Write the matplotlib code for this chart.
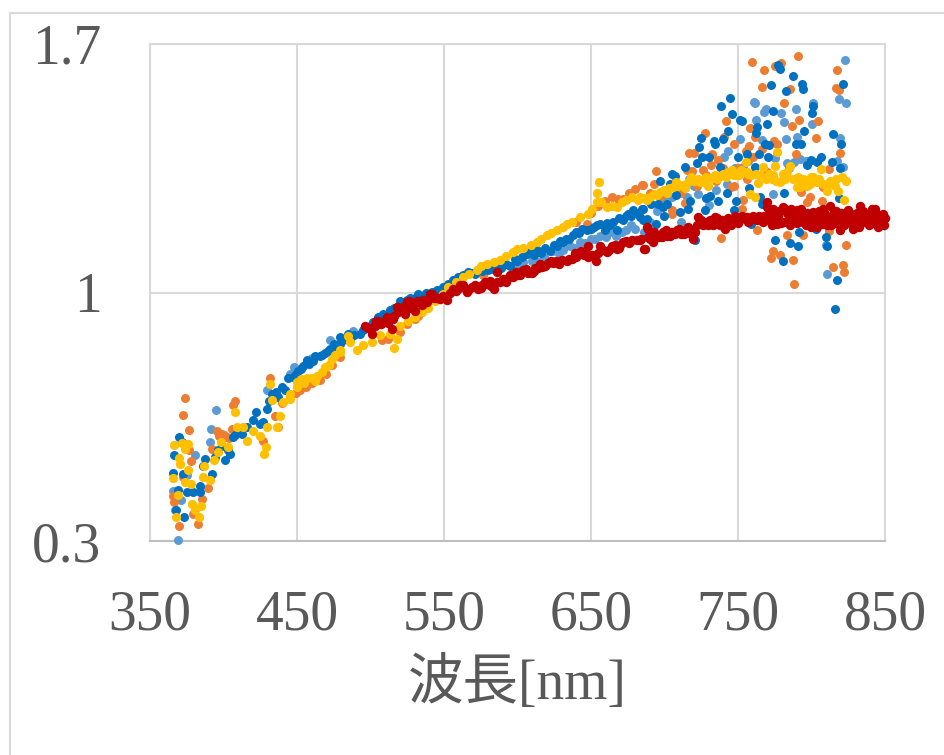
import numpy as np
import matplotlib
matplotlib.use('Agg')
import matplotlib.pyplot as plt
from matplotlib.patches import Rectangle

# values as (wavelength nm, ratio)
series_lightblue = [
    (368.8, .303), (365.4, .442), (370.9, .416), (367, .388), (380.6, .543), (394.7, .67), (391.5, .616), (390.8, .578),
    (375.4, .487), (429.4, .724), (448, .79), (445, .771), (456.6, .808), (472.4, .865), (488.3, .892), (452, .785),
    (460, .815), (597, 1.076), (610, 1.09), (624.4, 1.118), (631.2, 1.12), (636, 1.13), (642.5, 1.142), (650, 1.15), (656, 1.16),
    (663, 1.17), (671, 1.17), (677, 1.19), (686, 1.17), (702.6, 1.292), (710.5, 1.283), (711.4, 1.198), (716.6, 1.32),
    (722.9, 1.278), (730.2, 1.247), (742.7, 1.306), (740.5, 1.381), (743.4, 1.4), (751.3, 1.433), (753.6, 1.353),
    (760.9, 1.538), (761.5, 1.533), (762, 1.485), (766.5, 1.43), (767.7, 1.508), (769, 1.517), (773.6, 1.278),
    (779, 1.506), (781.5, 1.48), (782.4, 1.431), (783.1, 1.364), (788.3, 1.367), (789.4, 1.516), (790.3, 1.438),
    (792.2, 1.376), (800.1, 1.475), (801.2, 1.533), (809.6, 1.135), (810.5, 1.052), (817.6, 1.37), (818.5, 1.545),
    (819.4, 1.436), (821.6, 1.353), (822.5, 1.656), (823.2, 1.534),
    (600, 1.07), (604, 1.085), (614, 1.085), (618, 1.1), (628, 1.11), (639, 1.125), (646, 1.14), (653, 1.15), (660, 1.155),
    (667, 1.16), (674, 1.175), (680, 1.18), (690, 1.2), (695, 1.23), (700, 1.26), (705, 1.27), (715, 1.27), (720, 1.3),
    (727, 1.31), (735, 1.29), (748, 1.35), (757, 1.37), (775, 1.38), (785, 1.35), (796, 1.37),
]
series_orange = [
    (373.6, .703), (372.7, .656), (376.8, .614), (377.7, .525), (407.6, .694), (406.7, .682), (431.6, .76), (369.7, .341),
    (382.9, .348), (366.6, .409), (365.4, .428), (389.7, .449), (385.1, .419), (379.5, .377), (395.4, .611), (398.8, .602),
    (402.2, .593), (392, .56), (405.6, .616), (427, .583), (435, .653), (437.3, .621), (452, .724), (465.6, .754), (479, .818),
    (372.2, .48), (376.5, .557), (397, .595), (400.5, .6), (404, .59), (507.6, .865), (532.5, .935), (576.8, 1.048), (647, 1.193),
    (659.5, 1.259), (664, 1.269), (668.6, 1.264), (680, 1.292), (685, 1.303), (685.1, 1.302), (693, 1.306), (694.4, 1.342),
    (704.8, 1.231), (704.8, 1.222), (713.9, 1.253), (715, 1.345), (716.9, 1.394), (718.5, 1.342), (720.3, 1.392), (726.4, 1.344),
    (727.3, 1.45), (731.4, 1.36), (732.5, 1.39), (736.6, 1.372), (738.2, 1.153), (740.5, 1.438), (741.6, 1.484), (745, 1.298),
    (747.5, 1.3), (747.5, 1.417), (752.5, 1.236), (753.6, 1.261), (755.2, 1.4), (757.5, 1.413), (758.4, 1.463), (759.3, 1.65),
    (760.4, 1.381), (761.5, 1.437), (763.1, 1.176), (766.1, 1.403), (766.5, 1.579), (767.4, 1.626), (772.4, 1.096), (773.6, 1.116),
    (774.7, 1.426), (775.1, 1.637), (776.7, 1.419), (778.5, 1.107), (779.2, 1.647), (781.3, 1.535), (783.3, 1.163), (785.4, 1.572),
    (786.5, 1.469), (787.4, 1.092), (788.3, 1.024), (789.4, 1.39), (790.6, 1.666), (791.2, 1.487), (792.6, 1.283), (794.4, 1.163),
    (796.7, 1.256), (798.9, 1.269), (803.3, 1.436), (804.2, 1.484), (806.9, 1.257), (808, 1.297), (812.1, 1.348), (812.1, 1.173),
    (814.4, 1.073), (816.4, 1.576), (817.3, 1.627), (818.7, 1.57), (819.1, 1.393), (821.4, 1.078), (822.3, 1.057), (823.2, 1.135),
    (440, .69), (445, .705), (449, .718), (456, .735), (460, .745), (470, .77), (474, .795), (512, .87), (520, .89), (525, .91),
    (530, .925), (640, 1.2), (650, 1.225), (655, 1.245), (672, 1.262), (676, 1.28), (690, 1.28), (697, 1.27), (702, 1.285),
    (708, 1.3), (711, 1.28), (722, 1.3), (728, 1.33), (735, 1.315), (740, 1.35), (750, 1.35), (756, 1.32), (770, 1.34),
]
series_blue = [
    (369.7, .594), (372, .578), (366.6, .543), (365.4, .492), (368.8, .445), (367.7, .386), (373.4, .369), (372.7, .489),
    (375, .438), (379.5, .438), (384, .456), (384, .438), (385.8, .51), (392, .489), (387.4, .532), (394.2, .536), (401, .527),
    (404.4, .546), (398.8, .569), (406.7, .593), (412.4, .602), (420.3, .64), (422, .663), (427, .635), (429.4, .672), (432.8, .715),
    (437.3, .705), (441.8, .724), (447.5, .761), (451, .778), (454.3, .794), (458, .8), (461, .808), (465.6, .822), (469, .83), (472.4, .841), (476, .848),
    (479.3, .855), (479.3, .874), (485, .884), (489, .88), (492.9, .884), (497, .9), (502, .917), (505, .93), (508.7, .94), (513, .95), (518, .96),
    (522.3, .973), (527, .985), (532.5, .996), (538, 1.0), (545, 1.006), (549, 1.015), (553, 1.025), (556, 1.035), (559.8, 1.043), (563, 1.05), (566.6, 1.057),
    (571, 1.052), (576, 1.06), (583.6, 1.067), (589, 1.07), (595, 1.076), (600, 1.09), (606.2, 1.109), (611, 1.105), (616, 1.11), (622.1, 1.118), (627, 1.13),
    (631.2, 1.142), (635, 1.152), (638, 1.161), (642, 1.168), (647, 1.175), (652, 1.185), (656.1, 1.194), (659.6, 1.175), (663, 1.19), (667.5, 1.175),
    (672, 1.203), (675, 1.22), (678.8, 1.231), (681, 1.225), (684.5, 1.236), (685.6, 1.203), (683.3, 1.212), (685.6, 1.236), (687.8, 1.207), (690.6, 1.25), (694.2, 1.194),
    (695.8, 1.25), (696.9, 1.315), (699.2, 1.24), (699.6, 1.215), (701.4, 1.25), (703.7, 1.306), (704.8, 1.334), (707.1, 1.328), (707.8, 1.276),
    (710.5, 1.226), (713.7, 1.353), (716.2, 1.236), (717.3, 1.259), (720.7, 1.148), (722.3, 1.366), (723.4, 1.411), (724.6, 1.436), (725.7, 1.383),
    (727.5, 1.231), (728, 1.267), (730.2, 1.381), (730.9, 1.273), (733.6, 1.428), (734.3, 1.417), (736.6, 1.259), (737.7, 1.353), (738.2, 1.524),
    (739.5, 1.432), (742.3, 1.28), (743.4, 1.454), (744.5, 1.548), (745.7, 1.503), (747.5, 1.231), (748.6, 1.258), (750.2, 1.383), (751.3, 1.485),
    (752.5, 1.482), (755.9, 1.391), (757.7, 1.295), (758.8, 1.193), (761.5, 1.353), (762.2, 1.45), (762.7, 1.466), (764.5, 1.389), (764.9, 1.269),
    (766.1, 1.25), (768.3, 1.419), (769.5, 1.475), (770.6, 1.381), (771.3, 1.416), (772.4, 1.585), (773.6, 1.511), (775.1, 1.149), (777.4, 1.642),
    (778.5, 1.63), (780.4, 1.088), (781.5, 1.281), (782.4, 1.567), (785.4, 1.14), (787.4, 1.609), (789.4, 1.417), (790.6, 1.132), (791.3, 1.171),
    (792.6, 1.419), (793.3, 1.588), (794.4, 1.572), (795.1, 1.454), (796.7, 1.358), (799.4, 1.372), (800.1, 1.506), (801.2, 1.524), (803.3, 1.179),
    (803.5, 1.367), (806.4, 1.381), (809.6, 1.156), (810.3, 1.132), (813.7, 1.367), (814.4, 1.447), (816.2, .953), (817.3, 1.036), (818.9, 1.266),
    (819.4, 1.351), (820, 1.417), (821.4, 1.587),
    # second layer of the thick part of the band
    (396, .555), (403, .555), (408, .6), (416, .62), (425, .63), (431, .695), (436, .72), (440, .735), (444, .76), (449, .77), (453, .785), (457, .81), (462, .82),
    (467, .825), (471, .835), (475, .855), (481, .865), (487, .875), (495, .895), (500, .905), (510, .935), (516, .955), (520, .975), (525, .98), (530, .985),
    (542, 1.002), (558, 1.035), (569, 1.055), (580, 1.063), (586, 1.075), (592, 1.08), (598, 1.095), (603, 1.1), (608, 1.115), (613, 1.12), (619, 1.125), (625, 1.135),
    (629, 1.145), (633, 1.15), (640, 1.17), (644, 1.18), (650, 1.18), (654, 1.19), (661, 1.195), (665, 1.2), (669, 1.21), (674, 1.215), (677, 1.215),
]
series_yellow = [
    (366.6, .571), (372, .576), (375.6, .574), (373.8, .56), (369.5, .533), (370.6, .516), (365.4, .477), (376, .501), (373.8, .466),
    (377.7, .461), (368.8, .43), (378.8, .405), (384.7, .398), (380.6, .386), (383.6, .367), (367.7, .367), (386.7, .51), (386.3, .48),
    (390.8, .472), (393.8, .527), (396.5, .55), (398, .578), (403.3, .566), (407.8, .663), (409, .621), (413.5, .621), (416.2, .583),
    (420.3, .611), (424.8, .597), (428.7, .564), (427.8, .546), (429.8, .622), (431.6, .742), (432.8, .696), (436.2, .621), (438.4, .651),
    (440.7, .691), (445.2, .715), (449.8, .747), (453, .755), (456.6, .76), (460, .76), (463.4, .766), (469, .79), (473.6, .813), (476, .825), (479.3, .832),
    (484.5, .877), (479.3, .837), (486, .86), (490.6, .837), (495, .851), (500.8, .86), (506.5, .879), (513.3, .884), (517.8, .87), (516, .844),
    (520, .907), (525.7, .919), (530, .93), (535, .945), (539.3, .957), (544, .975), (549, .995), (553, 1.015), (558, 1.03), (563, 1.043), (567, 1.053), (572.2, 1.062), (575, 1.075),
    (579, 1.081), (584, 1.087), (588, 1.092), (592, 1.102), (597, 1.114), (600, 1.122), (604, 1.126), (609, 1.135), (613, 1.142), (616, 1.152), (620, 1.161), (623, 1.168), (626.6, 1.177),
    (631, 1.185), (634, 1.192), (637, 1.198), (642.5, 1.212), (648, 1.222), (651, 1.235), (653.9, 1.254), (655.5, 1.311), (654, 1.28), (657, 1.255), (660.7, 1.24), (664, 1.245), (667.5, 1.24),
    (671, 1.255), (674, 1.26), (677.7, 1.269), (683.3, 1.269), (686, 1.265), (690, 1.269), (693, 1.278), (696.9, 1.283), (700, 1.288), (703, 1.293), (706, 1.297), (709, 1.3), (712.8, 1.304),
    (716, 1.31), (720, 1.315), (723, 1.32), (726, 1.31), (729.8, 1.3), (732, 1.322), (734.3, 1.33), (738, 1.328), (740, 1.335), (743.4, 1.339), (746, 1.345), (749, 1.33), (752, 1.345), (755.4, 1.367),
    (755.9, 1.339), (758.1, 1.278), (759, 1.33), (761.5, 1.27), (763.8, 1.308), (765, 1.33), (767.2, 1.353), (769, 1.32), (772.9, 1.32), (775.1, 1.355), (776.3, 1.397),
    (776, 1.315), (778.5, 1.311), (780.8, 1.334), (783, 1.34), (785.3, 1.355), (787.6, 1.32), (789.9, 1.297), (792.1, 1.297), (794.4, 1.32), (796.7, 1.315), (799, 1.306),
    (801.2, 1.325), (803.5, 1.311), (806.4, 1.348), (808, 1.306), (810.3, 1.287), (812.6, 1.315), (814.8, 1.311), (818.2, 1.287), (820.5, 1.325), (822.1, 1.261), (823.2, 1.313),
    # second layer of the thick part of the band
    (445, .7), (450, .735), (455, .745), (462, .75), (467, .775), (472, .795), (682, 1.26), (688, 1.26), (695, 1.275), (702, 1.28), (708, 1.31), (714, 1.295), (718, 1.325), (724, 1.31),
    (728, 1.325), (736, 1.32), (742, 1.325), (747, 1.33), (751, 1.33), (757, 1.335), (762, 1.335), (771, 1.335), (774, 1.33), (782, 1.32), (791, 1.325), (793, 1.31), (797, 1.3), (800, 1.325), (805, 1.32),
    (811, 1.305), (816, 1.3), (817, 1.32),
]
series_red = [
    (496.3, .907), (498, .9), (500.8, .884), (503, .905), (505.3, .921), (507, .91), (509.9, .921), (512, .915), (514.4, .898), (516, .935), (517.8, .959), (520, .955), (523.5, .94),
    (524.6, .973), (527, .955), (530.3, .949), (531.4, .977), (535, .965), (538.2, .973), (540.5, .996), (543, .985), (547.3, .982), (551.8, .978), (554, 1.0), (556.4, 1.01), (560, 1.012),
    (563.2, 1.02), (565.4, 1.001), (569, 1.015), (573.4, 1.01), (576, 1.02), (579, 1.024), (582, 1.018), (584, 1.01), (585.8, 1.057), (588, 1.03), (590.4, 1.039), (594, 1.045), (597.2, 1.043),
    (600, 1.05), (604, 1.062), (607, 1.055), (609.6, 1.054), (612, 1.07), (615.3, 1.081), (619, 1.075), (621, 1.083), (624.4, 1.083), (628, 1.08), (633.4, 1.09), (637, 1.095), (640, 1.1), (642.5, 1.109),
    (645, 1.105), (648.2, 1.132), (648.2, 1.1), (651, 1.105), (653.2, 1.09), (656.1, 1.132), (658, 1.12), (660.7, 1.114), (664, 1.13), (667.5, 1.123), (670, 1.135), (672, 1.142), (676, 1.14), (681, 1.147),
    (683.3, 1.147), (686, 1.123), (686.7, 1.123), (687.8, 1.184), (689, 1.18), (689, 1.156), (690, 1.15), (692.4, 1.142), (694, 1.16), (696, 1.155), (699.2, 1.17), (702, 1.16), (705, 1.17), (708.2, 1.175), (711, 1.165),
    (714, 1.175), (717.3, 1.175), (719.6, 1.151), (721, 1.17), (723, 1.212), (726, 1.19), (729.8, 1.189), (732, 1.2), (734.3, 1.212), (737, 1.195), (739, 1.205), (741.1, 1.179), (744, 1.195), (746, 1.205),
    (749, 1.203), (752, 1.208), (755.9, 1.212), (759, 1.208), (762.7, 1.203), (765, 1.205), (767.2, 1.198), (769.5, 1.254), (771, 1.235), (772.9, 1.222), (773, 1.19), (775, 1.21), (776.3, 1.193),
    (778, 1.23), (780.8, 1.24), (781, 1.2), (783, 1.225), (785.3, 1.189), (787, 1.215), (789.9, 1.231), (790, 1.195), (792, 1.225), (794.4, 1.198), (797, 1.225), (798, 1.195), (801.2, 1.226),
    (803, 1.205), (805, 1.23), (806.9, 1.193), (809, 1.22), (810.5, 1.19), (812.6, 1.245), (814, 1.215), (816, 1.195), (817, 1.23), (819.4, 1.175), (821, 1.205), (823, 1.225), (825, 1.231), (826.5, 1.195),
    (828.4, 1.179), (830, 1.21), (833, 1.245), (834, 1.195), (836, 1.215), (837.5, 1.217), (839, 1.19), (840.9, 1.236), (842, 1.205), (844, 1.22), (845.4, 1.184), (847, 1.2), (848.8, 1.222), (849.5, 1.19),
    # second layer of the thick part of the band
    (501, .9), (504, .92), (511, .93), (515, .925), (519, .945), (522, .96), (526, .975), (529, .965), (533, .975), (536, .98), (542, .995), (545, .985), (549, .99), (558, 1.005), (561, 1.02),
    (567, 1.01), (571, 1.022), (575, 1.012), (578, 1.03), (581, 1.032), (586, 1.03), (592, 1.03), (595, 1.05), (599, 1.058), (602, 1.048), (606, 1.065), (611, 1.06), (614, 1.07), (617, 1.072),
    (623, 1.09), (626, 1.09), (630, 1.092), (635, 1.095), (639, 1.11), (643, 1.118), (646, 1.115), (655, 1.11), (662, 1.12), (666, 1.135), (669, 1.125), (674, 1.145), (678, 1.148), (684, 1.15),
    (691, 1.16), (693, 1.17), (698, 1.155), (701, 1.175), (704, 1.16), (707, 1.165), (710, 1.18), (713, 1.165), (716, 1.185), (718, 1.165), (722, 1.19), (725, 1.205), (728, 1.2), (731, 1.205),
    (733, 1.19), (736, 1.21), (738, 1.19), (740, 1.2), (743, 1.21), (745, 1.19), (748, 1.215), (750, 1.195), (753, 1.215), (757, 1.2), (760, 1.215), (764, 1.215), (768, 1.215),
    (770, 1.24), (771, 1.205), (774, 1.235), (777, 1.215), (779, 1.195), (782, 1.235), (784, 1.205), (786, 1.235), (788, 1.2), (791, 1.21), (793, 1.235), (795, 1.21), (796, 1.19), (799, 1.215),
    (800, 1.185), (802, 1.21), (804, 1.185), (807, 1.215), (808, 1.235), (811, 1.21), (813, 1.19), (815, 1.23), (818, 1.205), (820, 1.225), (822, 1.19), (824, 1.205), (827, 1.22), (829, 1.2),
    (831, 1.225), (832, 1.185), (835, 1.23), (838, 1.2), (841, 1.195), (843, 1.235), (846, 1.215), (848, 1.2), (850, 1.21),
]

colors = ['#5B9BD5', '#ED7D31', '#0070C0', '#FFC000', '#C00000']
sizes = [42, 42, 42, 44, 46]
xticks = [350, 450, 550, 650, 750, 850]
yticks = [0.3, 1, 1.7]
ytick_labels = ['0.3', '1', '1.7']

fig = plt.figure(figsize=(9.45, 7.55), dpi=100)
ax = fig.add_axes([150 / 945, (755 - 541) / 755, 735 / 945, 497 / 755])

all_series = [series_lightblue, series_orange, series_blue, series_yellow, series_red]
for pts, c, sz in zip(all_series, colors, sizes):
    arr = np.array(pts)
    ax.scatter(arr[:, 0], arr[:, 1], s=sz, color=c, linewidths=0, clip_on=False, zorder=3)

ax.set_xlim(350, 850)
ax.set_ylim(0.3, 1.7)
ax.set_xticks(xticks)
ax.set_yticks(yticks)
ax.set_yticklabels(ytick_labels)
ax.grid(True, color='#D9D9D9', linewidth=1.5)
ax.set_axisbelow(True)
for s in ax.spines.values():
    s.set_color('#D9D9D9')
    s.set_linewidth(1.5)
ax.spines['bottom'].set_color('#BFBFBF')
ax.tick_params(length=0, labelsize=40, labelcolor='#595959')
for lab in ax.get_xticklabels() + ax.get_yticklabels():
    lab.set_family(['Liberation Serif'])
ax.tick_params(axis='x', pad=35)
ax.tick_params(axis='y', pad=35)

fig.text(517 / 945, 1 - 683 / 755, '波長[nm]', fontsize=40, color='#595959', ha='center', va='center',
         family=['Liberation Serif', 'Noto Sans CJK JP'])

# chart area border, only the top and left edges are in frame
fig.add_artist(Rectangle((10 / 945, -0.1), 1.1, 1.1 - 13 / 755, fill=False, edgecolor='#D9D9D9', linewidth=1.5,
                         transform=fig.transFigure))

fig.savefig('out.png', dpi=100)
